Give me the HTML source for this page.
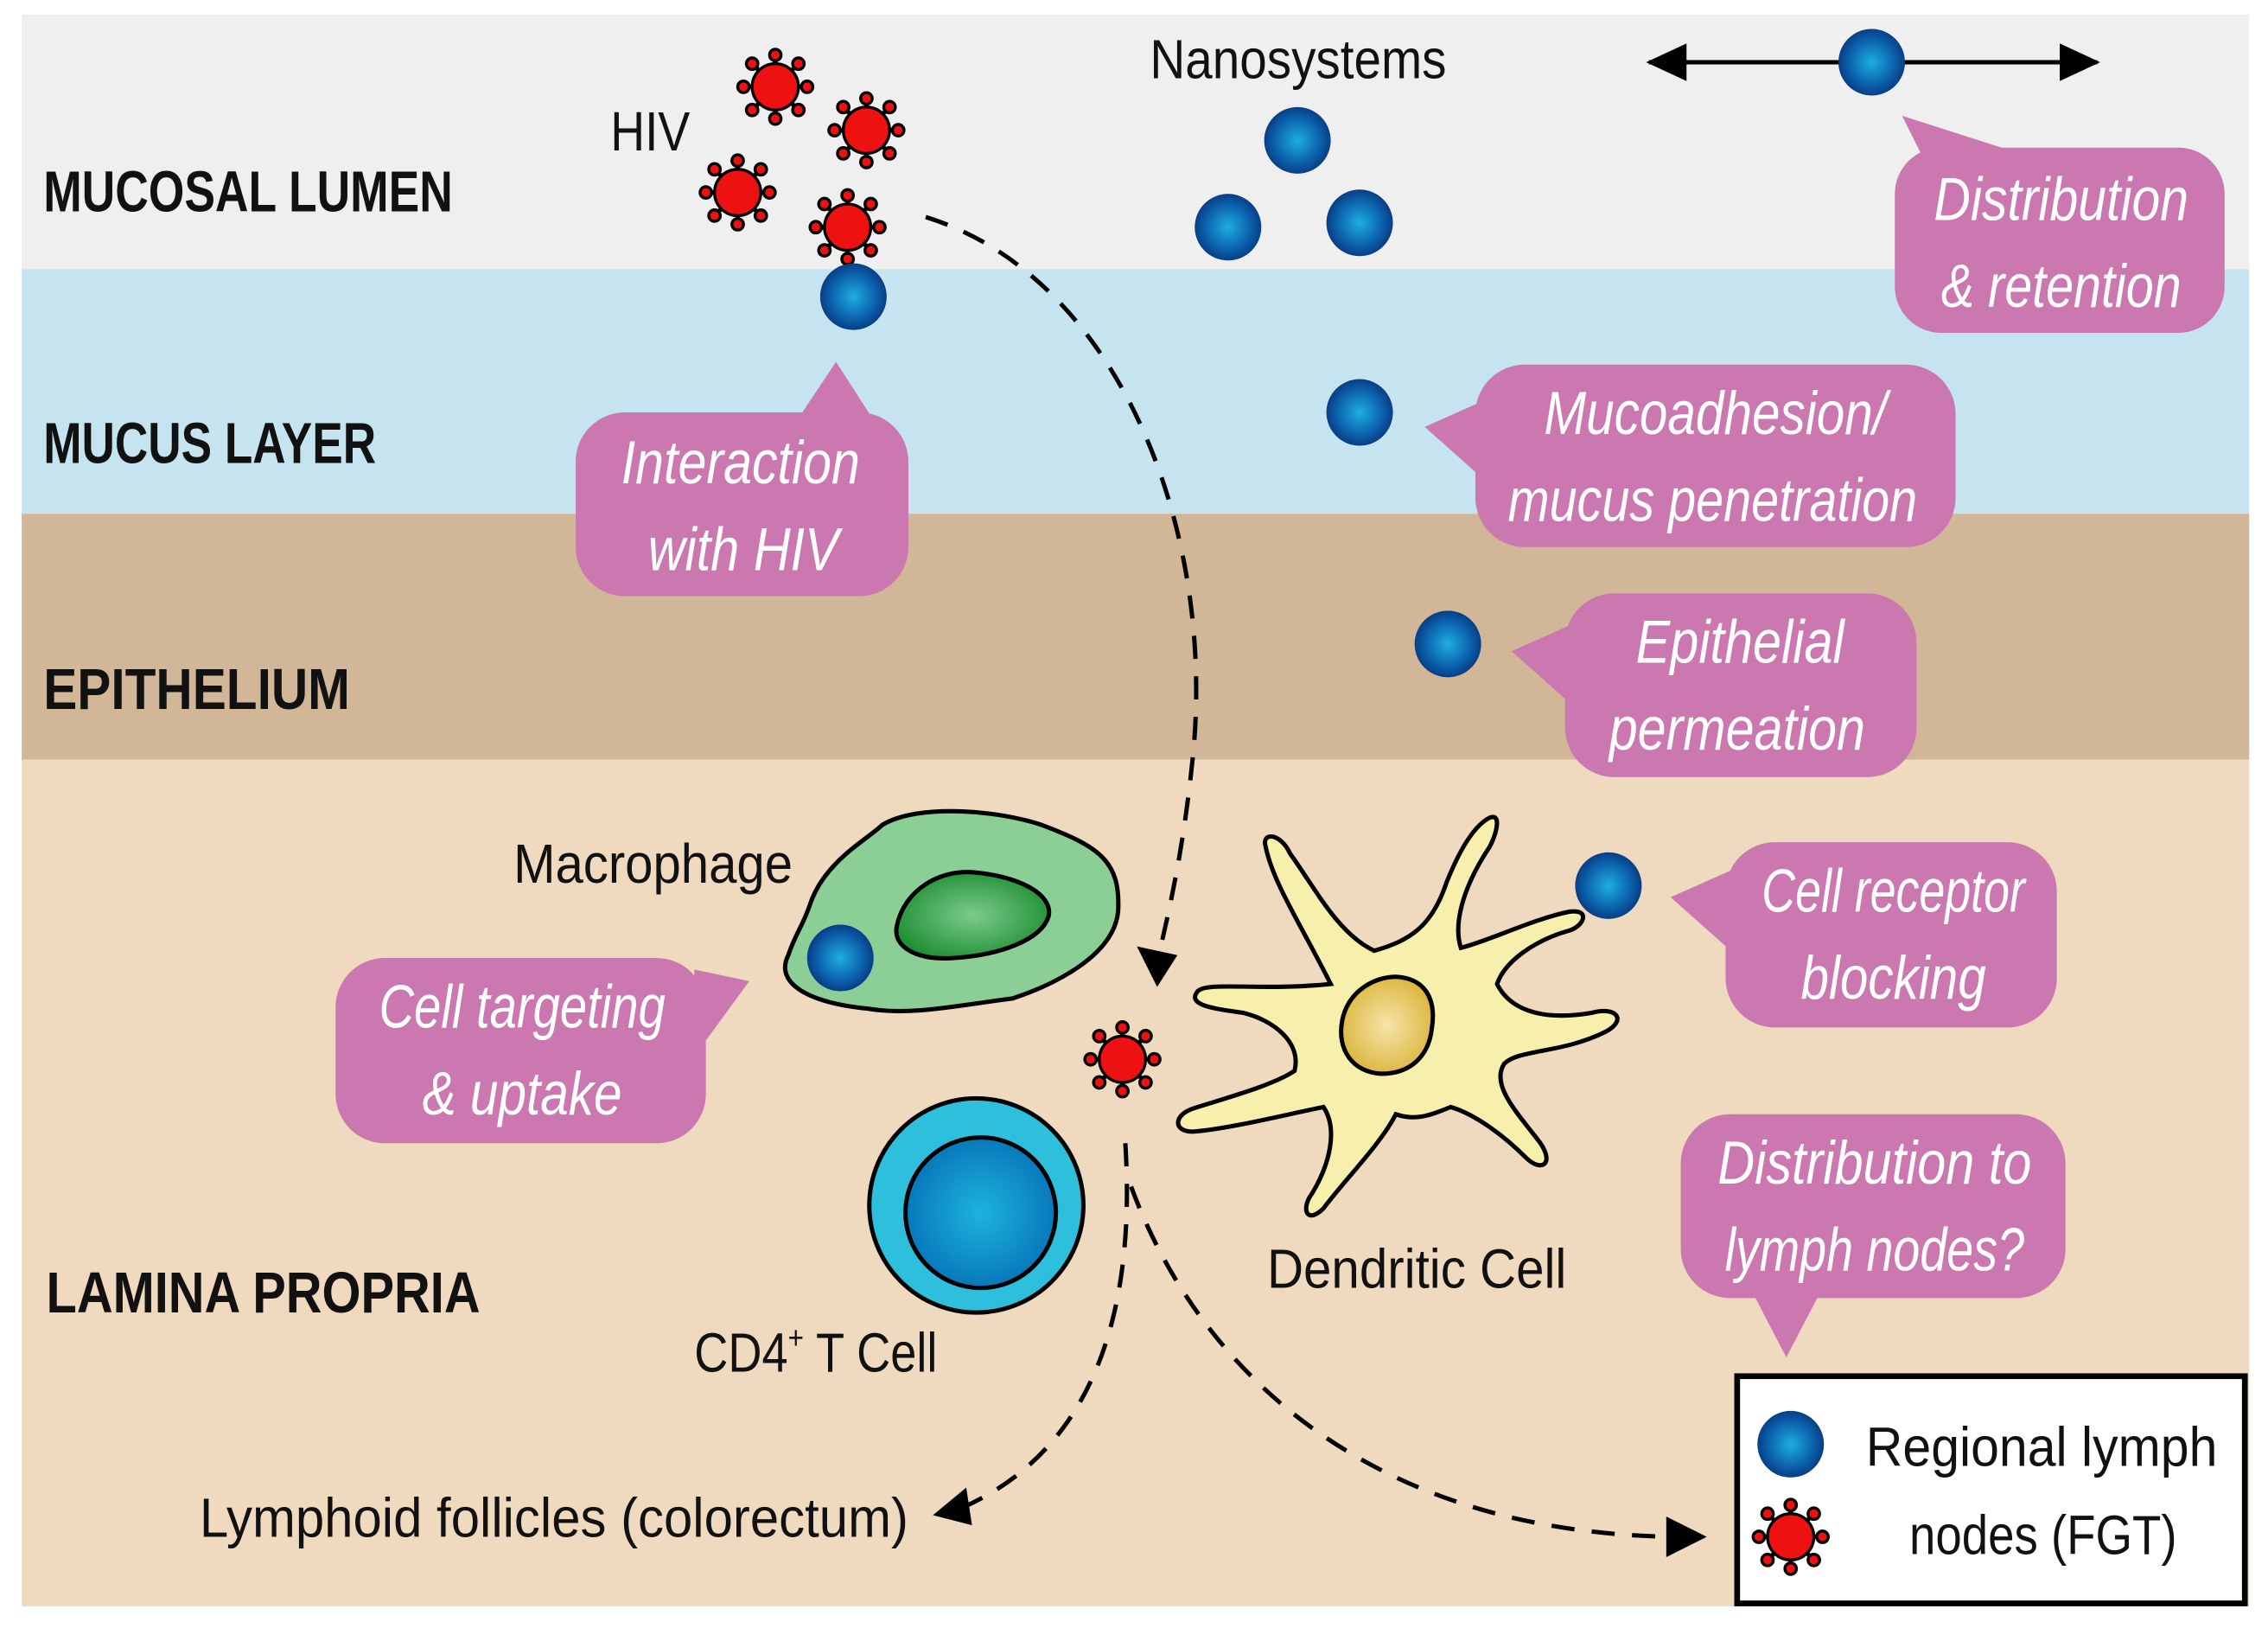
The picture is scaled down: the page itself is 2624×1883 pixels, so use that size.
<!DOCTYPE html>
<html><head><meta charset="utf-8"><style>
html,body{margin:0;padding:0;background:#fff;}
svg{display:block;}
.lbl{font-family:"Liberation Sans Narrow","Liberation Sans",sans-serif;font-weight:bold;font-size:40px;fill:#111;}
.t{font-family:"Liberation Sans Narrow","Liberation Sans",sans-serif;font-size:38px;fill:#111;}
.c{font-family:"Liberation Sans Narrow","Liberation Sans",sans-serif;font-style:italic;font-size:42px;fill:#fff;text-anchor:middle;}
</style></head><body>
<svg width="2624" height="1883" viewBox="0 0 1568 1125" preserveAspectRatio="none" xmlns="http://www.w3.org/2000/svg">
<defs>
<radialGradient id="np" cx="50%" cy="50%" r="55%"><stop offset="0" stop-color="#1eaee0"/><stop offset="0.6" stop-color="#0b64ae"/><stop offset="1" stop-color="#08337a"/></radialGradient>
<radialGradient id="tc" cx="50%" cy="50%" r="55%"><stop offset="0" stop-color="#1cb4dc"/><stop offset="1" stop-color="#0672b8"/></radialGradient>
<radialGradient id="gn" cx="50%" cy="50%" r="55%"><stop offset="0" stop-color="#7ccb8c"/><stop offset="1" stop-color="#1f8f34"/></radialGradient>
<radialGradient id="yn" cx="50%" cy="50%" r="55%"><stop offset="0" stop-color="#f6e5a8"/><stop offset="1" stop-color="#dbb43c"/></radialGradient>
<g id="nano"><circle r="23" fill="url(#np)"/></g>
<g id="hiv" stroke="#000" stroke-width="2">
<g stroke-width="3"><line x1="0" y1="-22" x2="0" y2="22"/><line x1="-22" y1="0" x2="22" y2="0"/><line x1="-16" y1="-16" x2="16" y2="16"/><line x1="-16" y1="16" x2="16" y2="-16"/></g>
<circle r="16" fill="#ee1111"/>
<circle cx="0" cy="-22" r="4" fill="#ee1111"/><circle cx="0" cy="22" r="4" fill="#ee1111"/><circle cx="-22" cy="0" r="4" fill="#ee1111"/><circle cx="22" cy="0" r="4" fill="#ee1111"/>
<circle cx="-16" cy="-16" r="4" fill="#ee1111"/><circle cx="16" cy="16" r="4" fill="#ee1111"/><circle cx="-16" cy="16" r="4" fill="#ee1111"/><circle cx="16" cy="-16" r="4" fill="#ee1111"/>
</g>
</defs>
<rect x="15" y="10" width="1540" height="176" fill="#efefef"/>
<rect x="15" y="186" width="1540" height="169" fill="#c5e4ef"/>
<rect x="15" y="355" width="1540" height="170" fill="#d2b698"/>
<rect x="15" y="525" width="1540" height="585" fill="#efd9bf"/>

<text class="lbl" x="30" y="146" textLength="283" lengthAdjust="spacingAndGlyphs">MUCOSAL LUMEN</text>
<text class="lbl" x="30" y="320" textLength="230" lengthAdjust="spacingAndGlyphs">MUCUS LAYER</text>
<text class="lbl" x="30" y="490" textLength="212" lengthAdjust="spacingAndGlyphs">EPITHELIUM</text>
<text class="lbl" x="32" y="907" textLength="300" lengthAdjust="spacingAndGlyphs">LAMINA PROPRIA</text>

<text class="t" x="422" y="104" textLength="55" lengthAdjust="spacingAndGlyphs">HIV</text>
<text class="t" x="795" y="54" textLength="205" lengthAdjust="spacingAndGlyphs">Nanosystems</text>
<text class="t" x="355" y="610" textLength="193" lengthAdjust="spacingAndGlyphs">Macrophage</text>
<text class="t" x="876" y="890" textLength="207" lengthAdjust="spacingAndGlyphs">Dendritic Cell</text>
<text class="t" x="480" y="948" textLength="168" lengthAdjust="spacingAndGlyphs">CD4<tspan dy="-16" font-size="22">+</tspan><tspan dy="16"> T Cell</tspan></text>
<text class="t" x="138" y="1062" textLength="490" lengthAdjust="spacingAndGlyphs">Lymphoid follicles (colorectum)</text>

<line x1="1140" y1="43" x2="1450" y2="43" stroke="#000" stroke-width="3"/>
<path d="M1138,43 L1166,30 L1166,56 z" fill="#000"/><path d="M1452,43 L1424,30 L1424,56 z" fill="#000"/>
<use href="#nano" x="1294" y="43"/>

<g fill="none" stroke="#000" stroke-width="3" stroke-dasharray="16,12">
<path d="M640,150 C770,190 840,360 825,520 C818,590 808,630 800,665"/>
<path d="M778,790 C785,900 760,1000 665,1042"/>
<path d="M782,820 C830,950 950,1060 1160,1062"/>
</g>
<path d="M800,682 L786,654 L814,660 z" fill="#000"/>
<path d="M645,1047 L668,1028 L672,1054 z" fill="#000"/>
<path d="M1180,1062 L1152,1048 L1152,1076 z" fill="#000"/>

<use href="#hiv" x="536" y="60"/><use href="#hiv" x="599" y="90"/><use href="#hiv" x="510" y="133"/><use href="#hiv" x="586" y="157"/><use href="#hiv" x="776" y="732"/>
<use href="#nano" x="590" y="205"/><use href="#nano" x="897" y="97"/><use href="#nano" x="849" y="157"/><use href="#nano" x="940" y="154"/><use href="#nano" x="940" y="285"/><use href="#nano" x="1001" y="445"/>

<path d="M560,625 C570,595 600,580 610,570 C635,555 690,560 720,570 C760,585 775,595 773,630 C770,660 730,680 700,690 C660,695 630,702 600,697 C560,693 535,680 545,660 C550,645 555,640 560,625 z" fill="#8bcf97" stroke="#000" stroke-width="3"/>
<path d="M620,640 C625,615 650,600 675,603 C705,606 728,618 725,633 C720,650 690,660 660,662 C635,664 617,655 620,640 z" fill="url(#gn)" stroke="#000" stroke-width="3"/>
<use href="#nano" x="581" y="662"/>

<path d="M920,680 C900,640 880,610 875,585 C872,575 885,575 892,590 C910,615 925,645 950,657 C975,650 990,640 1000,610 C1010,585 1020,570 1030,565 C1038,562 1035,575 1030,585 C1010,615 1005,640 1010,655 C1030,650 1060,635 1085,630 C1100,628 1095,640 1085,643 C1060,650 1040,665 1035,680 C1045,700 1070,705 1100,700 C1118,695 1125,705 1110,713 C1080,728 1050,725 1040,735 C1030,750 1050,770 1065,790 C1075,805 1065,810 1055,800 C1040,785 1020,770 1003,765 C990,770 980,775 965,770 C955,790 930,815 915,835 C905,845 900,838 905,828 C920,805 925,780 915,765 C890,770 850,780 825,782 C810,782 812,770 825,766 C850,758 880,750 895,740 C900,720 880,705 860,700 C840,697 820,695 828,685 C835,678 870,685 920,680 z" fill="#f7f0ad" stroke="#000" stroke-width="3"/>
<path d="M928,705 C932,685 950,675 965,675 C985,676 993,690 990,710 C988,730 975,742 955,742 C935,741 924,725 928,705 z" fill="url(#yn)" stroke="#000" stroke-width="3"/>
<use href="#nano" x="1112" y="612"/>

<ellipse cx="675" cy="833" rx="74" ry="74" fill="#2ebfdc" stroke="#000" stroke-width="3"/>
<ellipse cx="678" cy="838" rx="52" ry="52" fill="url(#tc)" stroke="#000" stroke-width="3"/>

<g fill="#cb78b0">
<rect x="1310" y="102" width="228" height="128" rx="32"/><path d="M1315,80 L1330,110 L1390,104 z"/>
<rect x="398" y="285" width="230" height="127" rx="34"/><path d="M578,250 L550,292 L605,292 z"/>
<rect x="1020" y="252" width="332" height="126" rx="34"/><path d="M985,295 L1030,275 L1030,335 z"/>
<rect x="1082" y="410" width="243" height="127" rx="34"/><path d="M1045,450 L1090,430 L1090,490 z"/>
<rect x="1193" y="582" width="229" height="128" rx="34"/><path d="M1155,620 L1200,600 L1200,660 z"/>
<rect x="232" y="662" width="256" height="128" rx="34"/><path d="M518,678 L480,670 L480,730 z"/>
<rect x="1162" y="770" width="266" height="127" rx="34"/><path d="M1235,938 L1210,890 L1260,890 z"/>
</g>
<text class="c" x="1425" y="152" textLength="176" lengthAdjust="spacingAndGlyphs">Distribution</text><text class="c" x="1425" y="212" textLength="166" lengthAdjust="spacingAndGlyphs">&amp; retention</text>
<text class="c" x="512" y="334" textLength="165" lengthAdjust="spacingAndGlyphs">Interaction</text><text class="c" x="514" y="394" textLength="132" lengthAdjust="spacingAndGlyphs">with HIV</text>
<text class="c" x="1186" y="300" textLength="237" lengthAdjust="spacingAndGlyphs">Mucoadhesion/</text><text class="c" x="1184" y="360" textLength="283" lengthAdjust="spacingAndGlyphs">mucus penetration</text>
<text class="c" x="1203" y="458" textLength="144" lengthAdjust="spacingAndGlyphs">Epithelial</text><text class="c" x="1201" y="518" textLength="177" lengthAdjust="spacingAndGlyphs">permeation</text>
<text class="c" x="1309" y="630" textLength="182" lengthAdjust="spacingAndGlyphs">Cell receptor</text><text class="c" x="1309" y="690" textLength="128" lengthAdjust="spacingAndGlyphs">blocking</text>
<text class="c" x="361" y="710" textLength="198" lengthAdjust="spacingAndGlyphs">Cell targeting</text><text class="c" x="361" y="770" textLength="138" lengthAdjust="spacingAndGlyphs">&amp; uptake</text>
<text class="c" x="1296" y="818" textLength="217" lengthAdjust="spacingAndGlyphs">Distribution to</text><text class="c" x="1296" y="878" textLength="207" lengthAdjust="spacingAndGlyphs">lymph nodes?</text>

<rect x="1201" y="951" width="351" height="157" fill="#fff" stroke="#000" stroke-width="4"/>
<use href="#nano" x="1238" y="998"/><use href="#hiv" x="1238" y="1062"/>
<text class="t" x="1290" y="1013" font-size="40" textLength="243" lengthAdjust="spacingAndGlyphs">Regional lymph</text>
<text class="t" x="1320" y="1074" font-size="40" textLength="185" lengthAdjust="spacingAndGlyphs">nodes (FGT)</text>
</svg>
</body></html>
